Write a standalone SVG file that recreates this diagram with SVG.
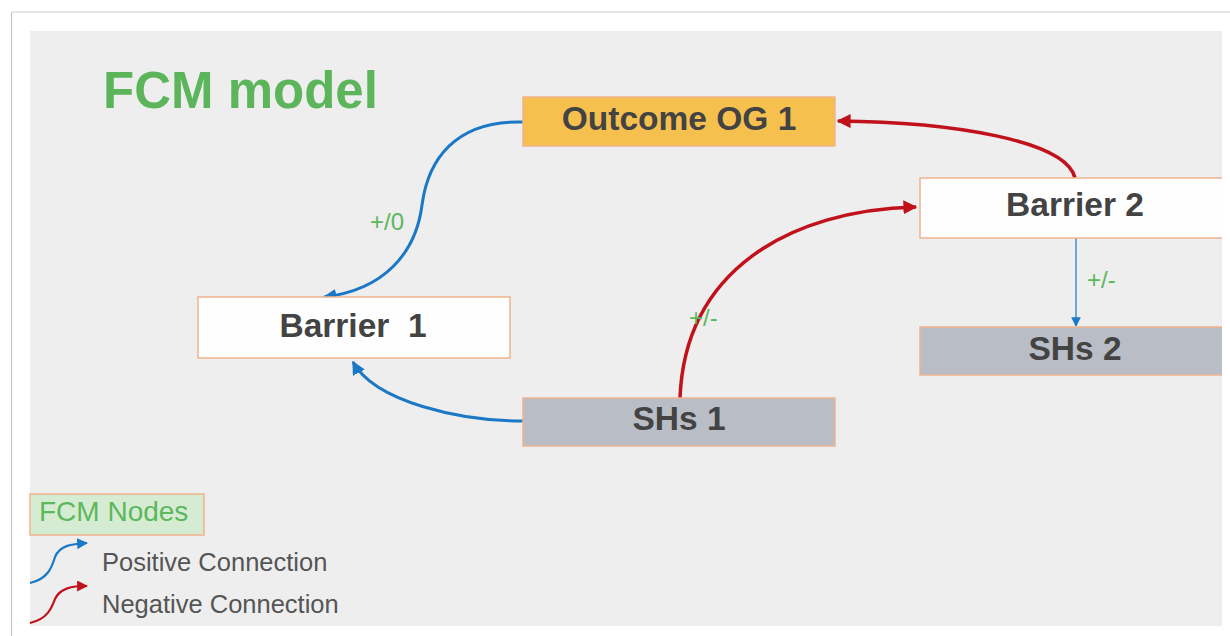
<svg xmlns="http://www.w3.org/2000/svg" width="1230" height="636" viewBox="0 0 1230 636">
  <defs>
    <style>
      .node { stroke: #f0b48e; stroke-width: 1.5; }
      .plain { fill: #fefefe; }
      .goal { fill: #f6c04f; }
      .sh { fill: #b9bdc5; }
      .label { font-family: "Liberation Sans", Arial, sans-serif; font-weight: bold; font-size: 33.5px; fill: #434343; text-anchor: middle; }
      .weight { font-family: "Liberation Sans", Arial, sans-serif; font-size: 24px; fill: #5cb85c; }
      .pos { fill: none; stroke: #1b78c6; stroke-width: 3; }
      .neg { fill: none; stroke: #c1121c; stroke-width: 3.5; }
      .legend { font-family: "Liberation Sans", Arial, sans-serif; font-size: 25.5px; fill: #555555; }
    </style>
    <clipPath id="panelClip">
      <rect x="30" y="31" width="1192" height="595"/>
    </clipPath>
    <marker id="arrowPos" viewBox="0 0 10 10" refX="9" refY="5" markerWidth="4.5" markerHeight="4.5" orient="auto" markerUnits="strokeWidth">
      <path d="M0,0 L10,5 L0,10 z" fill="#1b78c6"/>
    </marker>
    <marker id="arrowPosThin" viewBox="0 0 10 10" refX="9" refY="5" markerWidth="8" markerHeight="8" orient="auto" markerUnits="strokeWidth">
      <path d="M0,0 L10,5 L0,10 z" fill="#1b78c6"/>
    </marker>
    <marker id="arrowNeg" viewBox="0 0 10 10" refX="9" refY="5" markerWidth="4" markerHeight="4" orient="auto" markerUnits="strokeWidth">
      <path d="M0,0 L10,5 L0,10 z" fill="#c1121c"/>
    </marker>
    <marker id="arrowLegendPos" viewBox="0 0 10 10" refX="9" refY="5" markerWidth="5" markerHeight="5" orient="auto" markerUnits="strokeWidth">
      <path d="M0,0 L10,5 L0,10 z" fill="#1b78c6"/>
    </marker>
    <marker id="arrowLegendNeg" viewBox="0 0 10 10" refX="9" refY="5" markerWidth="5" markerHeight="5" orient="auto" markerUnits="strokeWidth">
      <path d="M0,0 L10,5 L0,10 z" fill="#c1121c"/>
    </marker>
    <filter id="edgeShadow" x="-50%" y="-5%" width="200%" height="110%">
      <feGaussianBlur stdDeviation="1.2"/>
    </filter>
  </defs>

  <!-- page background and frame -->
  <rect x="0" y="0" width="1230" height="636" fill="#ffffff"/>
  <line x1="12" y1="12" x2="1230" y2="12" stroke="#e6e6e6" stroke-width="2"/>
  <line x1="12" y1="12" x2="12" y2="636" stroke="#b0b0b0" stroke-width="3" filter="url(#edgeShadow)"/>
  <line x1="11.5" y1="12" x2="11.5" y2="636" stroke="#c4c4c4" stroke-width="1.2"/>
  <rect x="30" y="31" width="1192" height="595" fill="#eeeeee"/>

  <!-- title -->
  <text x="103" y="108" font-family="Liberation Sans, Arial, sans-serif" font-weight="bold" font-size="51" fill="#5cb55b">FCM model</text>

  <!-- connectors -->
  <g id="connectors">
    <path class="pos" d="M523,122 C455,120 428,160 422,205 C416,252 385,290 324,297" marker-end="url(#arrowPos)"/>
    <path class="pos" d="M523,421 C460,421 375,402 353,362" marker-end="url(#arrowPos)"/>
    <path class="neg" d="M680,398 C685,270 790,210 916,207" marker-end="url(#arrowNeg)"/>
    <path class="neg" d="M1075,178 C1066,140 950,122 838,121" marker-end="url(#arrowNeg)"/>
    <path fill="none" stroke="#1b78c6" stroke-width="1.2" d="M1076,238 L1076,326" marker-end="url(#arrowPosThin)"/>
    <text class="weight" x="370" y="230">+/0</text>
    <text class="weight" x="689" y="326">+/-</text>
    <text class="weight" x="1087" y="288">+/-</text>
  </g>

  <!-- nodes -->
  <g id="outcome-og1">
    <rect class="node goal" x="523" y="97" width="312" height="49"/>
    <text class="label" x="679" y="130">Outcome OG 1</text>
  </g>
  <g id="barrier-2" clip-path="url(#panelClip)">
    <rect class="node plain" x="920" y="178" width="320" height="60"/>
    <text class="label" x="1075" y="216">Barrier 2</text>
  </g>
  <g id="shs-2" clip-path="url(#panelClip)">
    <rect class="node sh" x="920" y="327" width="320" height="48"/>
    <text class="label" x="1075" y="360">SHs 2</text>
  </g>
  <g id="barrier-1">
    <rect class="node plain" x="198" y="297" width="312" height="61"/>
    <text class="label" x="353" y="337" xml:space="preserve">Barrier  1</text>
  </g>
  <g id="shs-1">
    <rect class="node sh" x="523" y="398" width="312" height="48"/>
    <text class="label" x="679" y="430">SHs 1</text>
  </g>

  <!-- legend -->
  <g id="legend">
    <rect x="30" y="494" width="174" height="41" fill="#d6ecd2" stroke="#f0b48e" stroke-width="1.5"/>
    <text x="39" y="521" font-family="Liberation Sans, Arial, sans-serif" font-size="28" fill="#5cb85c">FCM Nodes</text>
    <path fill="none" stroke="#1b78c6" stroke-width="2.2" d="M30,583 C48,579 52,567 55,557 C60,545 72,544 87,543" marker-end="url(#arrowLegendPos)"/>
    <text class="legend" x="102" y="571">Positive Connection</text>
    <path fill="none" stroke="#c1121c" stroke-width="2.2" d="M30,623 C48,619 52,607 55,599 C60,588 72,586 87,586" marker-end="url(#arrowLegendNeg)"/>
    <text class="legend" x="102" y="613">Negative Connection</text>
  </g>
</svg>
